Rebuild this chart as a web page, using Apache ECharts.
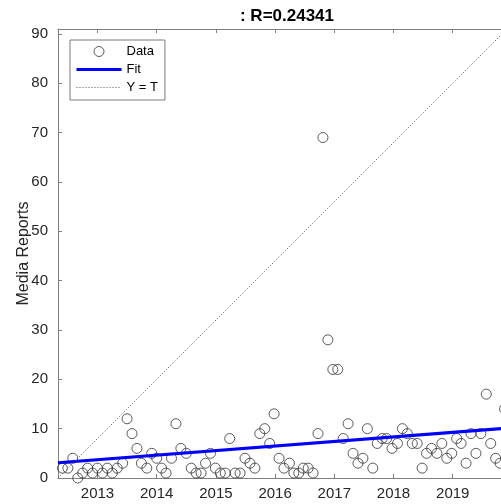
<!DOCTYPE html>
<html><head><meta charset="utf-8">
<script src="https://cdn.jsdelivr.net/npm/echarts@6/dist/echarts.min.js"></script>
<style>html,body{margin:0;padding:0;background:#fff;overflow:hidden}#c{width:501px;height:504px}</style>
</head><body><div id="c"></div>
<script>
const months = [0.9,2.0,3.0,4.0,5.0,6.0,7.0,8.0,9.0,10.0,11.0,12.0,13.1,14.0,15.0,16.0,16.9,18.0,19.0,20.0,21.0,21.9,23.0,23.9,24.9,26.0,27.0,28.0,29.0,29.9,30.9,31.9,32.9,33.9,34.8,35.9,36.9,37.9,38.9,39.9,40.9,41.9,42.9,43.8,44.8,45.8,46.9,47.8,48.8,49.7,50.7,51.7,52.7,53.7,54.7,55.7,56.7,57.8,58.8,59.8,60.8,61.8,62.7,63.8,64.7,65.7,66.6,67.7,68.8,69.8,70.8,71.8,72.8,73.8,74.7,75.7,76.8,77.8,78.8,79.8,80.8,81.7,82.7,83.7,84.7,85.7,86.8,87.7,88.7,89.6,90.5];
// Media reports per month
const reports = [2,2,4,0,1,2,1,2,1,2,1,2,3,12,9,6,3,2,5,4,2,1,4,11,6,5,2,1,1,3,5,2,1,1,8,1,1,4,3,2,9,10,7,13,4,2,3,1,1,2,2,1,9,69,28,22,22,8,11,5,3,4,10,2,7,8,8,6,7,10,9,7,7,2,5,6,5,7,4,5,8,7,3,9,5,9,17,7,4,3,14];
// Fit line end points
const fitX = [0, 91];
const fitY = [3.1, 10.1];
// Y = T reference line end points
const identX = [0, 91];
const identY = [0, 91];
// Axis ticks
const yearTickPos = [8, 20, 32, 44, 56, 68, 80];
const yearLabels = ['2013', '2014', '2015', '2016', '2017', '2018', '2019'];
const yTicks = [0, 10, 20, 30, 40, 50, 60, 70, 80, 90];
const axisMax = 91;
const titleText = ': R=0.24341';
const yName = 'Media Reports';

const FONT = '"Liberation Sans", Arial, Helvetica, sans-serif';
const axisCol = '#808080';
const textCol = '#262626';

const chart = echarts.init(document.getElementById('c'), null, {renderer: 'canvas'});
const scatterData = months.map((m, i) => [m, reports[i]]);
const fitData = fitX.map((x, i) => [x, fitY[i]]);
const identData = identX.map((x, i) => [x, identY[i]]);

const option = {
  backgroundColor: '#fff',
  animation: false,
  title: {
    text: titleText, left: 282, top: 3, textAlign: 'center',
    textStyle: {fontFamily: FONT, fontSize: 17, fontWeight: 'bold', color: '#000'}
  },
  grid: {left: 58, top: 29, width: 449, height: 449, containLabel: false, outerBoundsMode: 'none'},
  legend: {
    orient: 'vertical', left: 70, top: 40, selectedMode: false,
    padding: [5, 7, 6, 5], itemGap: 5, itemWidth: 45, itemHeight: 10,
    borderColor: '#7a7a7a', borderWidth: 1, backgroundColor: '#fff',
    textStyle: {fontFamily: FONT, fontSize: 13, color: '#000'},
    data: [
      {name: 'Data', itemStyle: {color: 'rgba(0,0,0,0)', borderColor: '#333', borderWidth: 1}},
      {name: 'Fit', itemStyle: {opacity: 0}, lineStyle: {width: 3}},
      {name: 'Y = T', itemStyle: {opacity: 0}, lineStyle: {width: 1}}
    ]
  },
  xAxis: [{
    type: 'value', min: 0, max: axisMax, position: 'bottom',
    axisLine: {show: true, onZero: false, lineStyle: {color: axisCol, width: 1}},
    axisTick: {show: true, inside: true, length: 4, customValues: yearTickPos, lineStyle: {color: axisCol}},
    axisLabel: {show: true, customValues: yearTickPos, margin: 8,
      formatter: v => yearLabels[yearTickPos.indexOf(v)] || '',
      fontFamily: FONT, fontSize: 15, color: textCol},
    splitLine: {show: false}
  }, {
    type: 'value', min: 0, max: axisMax, position: 'top',
    axisLine: {show: true, onZero: false, lineStyle: {color: axisCol, width: 1}},
    axisTick: {show: true, inside: true, length: 4, customValues: yearTickPos, lineStyle: {color: axisCol}},
    axisLabel: {show: false},
    splitLine: {show: false}
  }],
  yAxis: [{
    type: 'value', min: 0, max: axisMax, position: 'left',
    name: yName, nameLocation: 'middle', nameGap: 26, nameMoveOverlap: false,
    nameTextStyle: {fontFamily: FONT, fontSize: 16, color: textCol},
    axisLine: {show: true, onZero: false, lineStyle: {color: axisCol, width: 1}},
    axisTick: {show: true, inside: true, length: 4, customValues: yTicks, lineStyle: {color: axisCol}},
    axisLabel: {show: true, customValues: yTicks, margin: 10, fontFamily: FONT, fontSize: 15, color: textCol},
    splitLine: {show: false}
  }],
  series: [{
    name: 'Data', type: 'scatter', xAxisIndex: 0, yAxisIndex: 0,
    data: scatterData, symbol: 'circle', symbolSize: 10,
    itemStyle: {color: 'rgba(0,0,0,0)', borderColor: '#333', borderWidth: 1},
    z: 2
  }, {
    name: 'Fit', type: 'line', xAxisIndex: 0, yAxisIndex: 0,
    data: fitData, symbol: 'none', showSymbol: false,
    lineStyle: {color: '#0000ff', width: 3}, itemStyle: {color: '#0000ff'},
    z: 3
  }, {
    name: 'Y = T', type: 'line', xAxisIndex: 0, yAxisIndex: 0,
    data: identData, symbol: 'none', showSymbol: false,
    lineStyle: {color: '#555', width: 1, type: [1, 2]}, itemStyle: {color: '#555'},
    z: 4
  }]
};
chart.setOption(option);
</script>
</body></html>
